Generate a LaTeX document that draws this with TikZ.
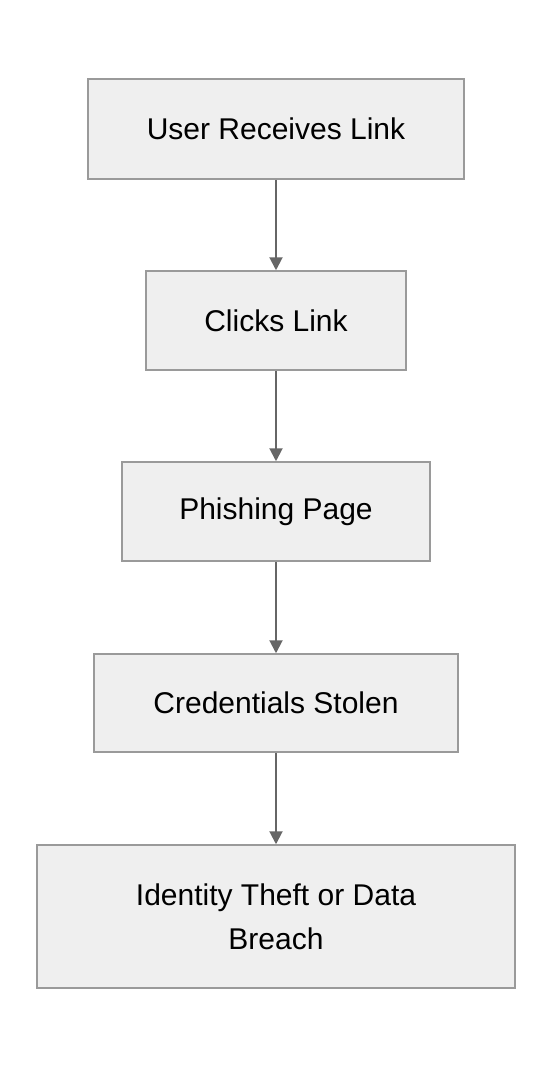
\documentclass[tikz,border=0pt]{standalone}
\usepackage{fontspec}
\setmainfont{Liberation Sans}
\usetikzlibrary{arrows.meta, positioning}
\definecolor{boxfill}{HTML}{EFEFEF}
\definecolor{boxline}{HTML}{9A9A9A}
\definecolor{arrowgray}{HTML}{666666}
\tikzset{
  stepbox/.style={draw=boxline, fill=boxfill, line width=1.5pt, font=\fontsize{30}{44}\selectfont, align=center, inner sep=0pt},
  flow/.style={draw=arrowgray, line width=2pt, -{Triangle[length=13pt, width=13pt]}}
}
\begin{document}
\begin{tikzpicture}[x=1pt, y=-1pt]
        \useasboundingbox (0, 0) rectangle (552, 1068);
        \node [stepbox, minimum width=376pt, minimum height=100pt] (Receive) at (276, 129) {User Receives Link};
        \node [stepbox, minimum width=260pt, minimum height=99pt] (Click) at (276, 320.5) {Clicks Link};
        \node [stepbox, minimum width=308pt, minimum height=99pt] (Phish) at (276, 511.5) {Phishing Page};
        \node [stepbox, minimum width=364pt, minimum height=98pt] (Steal) at (276, 703) {Credentials Stolen};
        \node [stepbox, minimum width=478pt, minimum height=143pt] (Breach) at (276, 916.5) {Identity Theft or Data\\Breach};

        \draw [flow] (Receive) -- (Click);
        \draw [flow] (Click) -- (Phish);
        \draw [flow] (Phish) -- (Steal);
        \draw [flow] (Steal) -- (Breach);
    \end{tikzpicture}
\end{document}
